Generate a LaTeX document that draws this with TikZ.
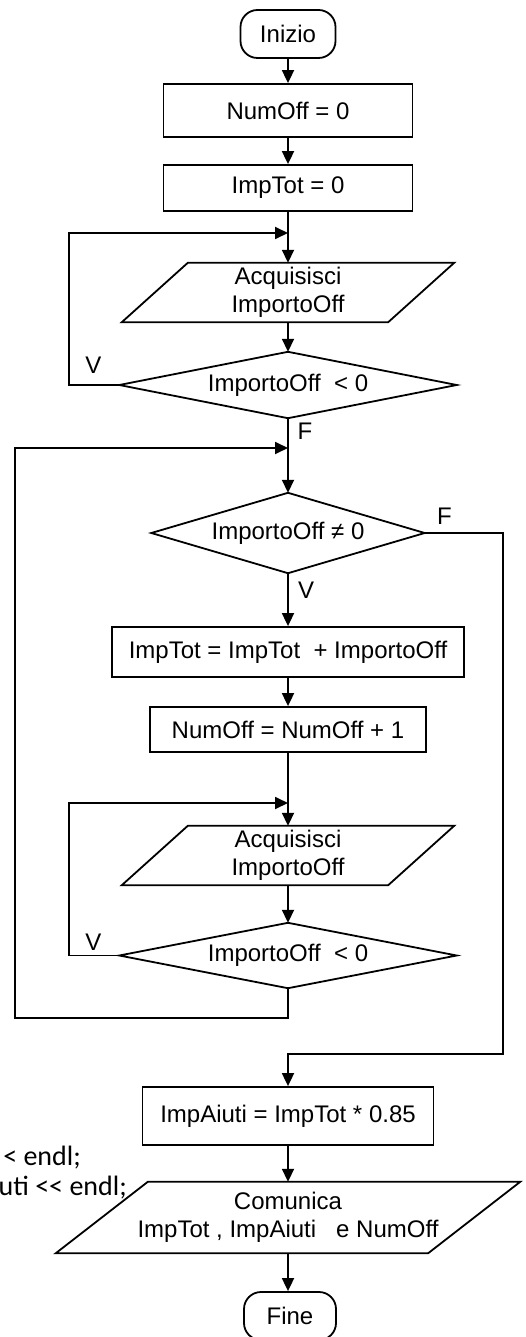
\documentclass[tikz,border=0pt]{standalone}
\usepackage{fontspec}
\setmainfont{Liberation Sans}
\newfontfamily\codefont{Carlito}[Ligatures=TeXOff]
\usetikzlibrary{arrows.meta,calc}

\begin{document}
\begin{tikzpicture}[x=1pt,y=-1pt,
  every node/.style={font=\fontsize{24}{28.5}\selectfont, inner sep=0pt, align=center},
  flow/.style={line width=1.8pt},
  arr/.style={flow, -{Triangle[length=13pt,width=12pt]}},
  procbox/.style={draw, line width=1.8pt},
  termbox/.style={draw, line width=1.8pt, rounded corners=17pt},
  codetext/.style={font=\codefont\fontsize{28}{31}\selectfont, anchor=base east}
]
\useasboundingbox (0,0) rectangle (525,1337);
\clip (0,0) rectangle (525,1337);

% start and initialisation
\node[termbox, minimum width=95pt, minimum height=48pt] (start) at (288,34) {Inizio};
\node[procbox, minimum width=249pt, minimum height=53pt] (b1) at (288,110.5) {NumOff = 0};
\node[procbox, minimum width=249pt, minimum height=46pt] (b2) at (288,188) {ImpTot = 0};

% first input loop
\node[minimum width=332pt, minimum height=59pt] (in1) at (288,292.5) {Acquisisci\\ImportoOff};
\draw[flow] ($(in1.north west)+(66,0)$) -- (in1.north east) -- ($(in1.south east)+(-66,0)$) -- (in1.south west) -- cycle;
\node[minimum width=337pt, minimum height=66pt] (d1) at (288,385) {ImportoOff~~< 0};
\draw[flow] (d1.west) -- (d1.north) -- (d1.east) -- (d1.south) -- cycle;

% main loop
\node[minimum width=273pt, minimum height=80pt] (d2) at (288,533) {ImportoOff ≠ 0};
\draw[flow] (d2.west) -- (d2.north) -- (d2.east) -- (d2.south) -- cycle;
\node[procbox, minimum width=352pt, minimum height=50pt] (b3) at (288,652) {ImpTot = ImpTot~~+ ImportoOff};
\node[procbox, minimum width=276pt, minimum height=45pt] (b4) at (288,729.5) {NumOff = NumOff + 1};

% inner input loop
\node[minimum width=332pt, minimum height=59pt] (in2) at (288,855.5) {Acquisisci\\ImportoOff};
\draw[flow] ($(in2.north west)+(66,0)$) -- (in2.north east) -- ($(in2.south east)+(-66,0)$) -- (in2.south west) -- cycle;
\node[minimum width=337pt, minimum height=65pt] (d3) at (288,955.5) {ImportoOff~~< 0};
\draw[flow] (d3.west) -- (d3.north) -- (d3.east) -- (d3.south) -- cycle;

% result and output
\node[procbox, minimum width=291pt, minimum height=58pt] (b5) at (288,1116) {ImpAiuti = ImpTot * 0.85};
\node[minimum width=464pt, minimum height=71pt] (out) at (288,1217.5) {Comunica\\ImpTot , ImpAiuti~~~e NumOff};
\draw[flow] ($(out.north west)+(92,0)$) -- (out.north east) -- ($(out.south east)+(-92,0)$) -- (out.south west) -- cycle;
\node[termbox, minimum width=92pt, minimum height=48pt] (stop) at (290,1316) {Fine};

% branch labels
\node (v1) at (93.5,365) {V};
\node (f1) at (305,431) {F};
\node (f2) at (444.5,516) {F};
\node (v2) at (306,590.5) {V};
\node (v3) at (93.5,942) {V};

% code fragment
\node[codetext] (code1) at (81,1165) {< endl;};
\node[codetext] (code2) at (127,1195) {uti << endl;};

% junctions and corners
\coordinate (j1) at (288,233);
\coordinate (j2) at (288,448);
\coordinate (j3) at (288,803);
\coordinate (c1) at (15,1018);
\coordinate (c2) at (503,1054);

% connectors
\draw[arr] (start.south) -- (b1.north);
\draw[arr] (b1.south) -- (b2.north);
\draw[arr] (b2.south) -- (in1.north);
\draw[arr] (in1.south) -- (d1.north);
\draw[arr] (d1.west) -- ++(-50,0) |- (j1);
\draw[arr] (d1.south) -- (d2.north);
\draw[arr] (d2.south) -- (b3.north);
\draw[arr] (b3.south) -- (b4.north);
\draw[arr] (b4.south) -- (in2.north);
\draw[arr] (in2.south) -- (d3.north);
\draw[arr] (d3.west) -- ++(-50,0) |- (j3);
\draw[arr] (d3.south) |- (c1) |- (j2);
\draw[arr] (d2.east) -| (c2) -| (b5.north);
\draw[arr] (b5.south) -- (out.north);
\draw[arr] (out.south) -- (stop.north -| out.south);
\end{tikzpicture}
\end{document}
